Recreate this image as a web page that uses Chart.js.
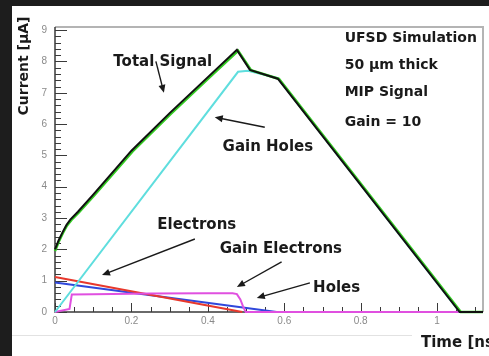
<!DOCTYPE html>
<html>
<head>
<meta charset="utf-8">
<script src="https://cdn.jsdelivr.net/npm/chart.js@4.4.1/dist/chart.umd.min.js"></script>
<style>
  html, body { margin: 0; padding: 0; background: #1d1d1d; }
  #wrap { width: 489px; height: 356px; }
  canvas { display: block; }
</style>
</head>
<body>
<div id="wrap"><canvas id="chart" width="489" height="356"></canvas></div>
<script>
// Simulated UFSD current pulse (time in ns, current in µA)
const totalTime      = [0, 0.01, 0.02, 0.03, 0.04, 0.06, 0.10, 0.20, 0.30, 0.40, 0.476, 0.51, 0.583, 1.059, 1.12];
const totalCurrent   = [2.0, 2.3, 2.55, 2.78, 2.95, 3.2, 3.75, 5.15, 6.35, 7.5, 8.37, 7.73, 7.45, 0, 0];

const totalAltTime    = [0, 0.011, 0.021, 0.031, 0.043, 0.063, 0.103, 0.203, 0.303, 0.403, 0.479, 0.513, 0.586, 1.062, 1.12];
const totalAltCurrent = [1.95, 2.28, 2.53, 2.76, 2.94, 3.19, 3.73, 5.13, 6.33, 7.48, 8.34, 7.72, 7.44, 0, 0];

const gainHolesTime    = [0, 0.479, 0.505, 0.583, 1.059, 1.12];
const gainHolesCurrent = [0, 7.67, 7.70, 7.47, 0, 0];

const electronsTime    = [0, 0.49];
const electronsCurrent = [1.12, 0];

const holesTime    = [0, 0.58];
const holesCurrent = [0.94, 0];

const gainElecTime    = [0, 0.038, 0.044, 0.10, 0.25, 0.40, 0.465, 0.476, 0.485, 0.492, 0.499, 1.12];
const gainElecCurrent = [0, 0.10, 0.56, 0.57, 0.59, 0.60, 0.60, 0.57, 0.40, 0.18, 0, 0];

const xTickValues = [0, 0.2, 0.4, 0.6, 0.8, 1];
const xTickLabels = ['0', '0.2', '0.4', '0.6', '0.8', '1'];
const yTickValues = [0, 1, 2, 3, 4, 5, 6, 7, 8, 9];
const yTickLabels = ['0', '1', '2', '3', '4', '5', '6', '7', '8', '9'];

// Text annotations: label, label anchor (t, I), arrow tail (t, I), arrow head (t, I)
const annotations = [
  { text: 'Total Signal',   at: [0.282, 7.98], from: [0.264, 8.00], to: [0.285, 7.00] },
  { text: 'Gain Holes',     at: [0.557, 5.27], from: [0.549, 5.90], to: [0.418, 6.22] },
  { text: 'Electrons',      at: [0.371, 2.78], from: [0.366, 2.33], to: [0.123, 1.18] },
  { text: 'Gain Electrons', at: [0.591, 2.01], from: [0.593, 1.60], to: [0.476, 0.80] },
  { text: 'Holes',          at: [0.737, 0.77], from: [0.667, 0.93], to: [0.528, 0.45] }
];
const infoLines = ['UFSD Simulation', '50 \u00b5m thick', 'MIP Signal', 'Gain = 10'];
const infoAnchor = [0.758, [8.75, 7.86, 7.0, 6.07]];

const pts = (ts, vs) => ts.map((t, i) => ({ x: t, y: vs[i] }));

const FACE = '"DejaVu Sans", Lato, sans-serif';

const decor = {
  id: 'decor',
  beforeDraw(chart) {
    const { ctx, width, height } = chart;
    ctx.save();
    ctx.fillStyle = '#1d1d1d';
    ctx.fillRect(0, 0, width, height);
    ctx.fillStyle = '#ffffff';
    ctx.fillRect(12, 6, width - 12, height - 6);
    ctx.strokeStyle = '#e2e2e2';
    ctx.lineWidth = 1;
    ctx.beginPath();
    ctx.moveTo(12, 335.5); ctx.lineTo(412, 335.5);
    ctx.stroke();
    ctx.restore();
  },
  beforeDatasetsDraw(chart) {
    const { ctx, chartArea: a, scales: { x, y } } = chart;
    ctx.save();
    // frame
    ctx.strokeStyle = '#b4b4b4';
    ctx.lineWidth = 2;
    ctx.beginPath();
    ctx.moveTo(a.left, a.top); ctx.lineTo(a.right, a.top); ctx.lineTo(a.right, a.bottom);
    ctx.stroke();
    ctx.strokeStyle = '#3a3a3a';
    ctx.lineWidth = 1.5;
    ctx.beginPath();
    ctx.moveTo(a.left, a.top); ctx.lineTo(a.left, a.bottom); ctx.lineTo(a.right, a.bottom);
    ctx.stroke();
    // inward tick marks
    ctx.lineWidth = 1;
    ctx.strokeStyle = '#3a3a3a';
    ctx.beginPath();
    for (let k = 0; k <= 45; k++) {
      const v = k * 0.2;
      const py = Math.round(y.getPixelForValue(v)) + 0.5;
      const len = (k % 5 === 0) ? 12 : 6;
      ctx.moveTo(a.left, py); ctx.lineTo(a.left + len, py);
    }
    for (let k = 0; k <= 22; k++) {
      const v = k * 0.05;
      const px = Math.round(x.getPixelForValue(v)) + 0.5;
      const len = (k % 4 === 0) ? 9 : 5;
      ctx.moveTo(px, a.bottom); ctx.lineTo(px, a.bottom - len);
    }
    ctx.stroke();
    ctx.restore();
  },
  afterDatasetsDraw(chart) {
    const { ctx, scales: { x, y } } = chart;
    ctx.save();
    ctx.fillStyle = '#1a1a1a';
    ctx.strokeStyle = '#1a1a1a';
    ctx.font = 'bold 15px ' + FACE;
    ctx.textAlign = 'center';
    ctx.textBaseline = 'middle';
    annotations.forEach(an => {
      ctx.fillText(an.text, x.getPixelForValue(an.at[0]), y.getPixelForValue(an.at[1]));
      const x0 = x.getPixelForValue(an.from[0]), y0 = y.getPixelForValue(an.from[1]);
      const x1 = x.getPixelForValue(an.to[0]), y1 = y.getPixelForValue(an.to[1]);
      const ang = Math.atan2(y1 - y0, x1 - x0);
      ctx.lineWidth = 1.4;
      ctx.beginPath();
      ctx.moveTo(x0, y0);
      ctx.lineTo(x1 - 4 * Math.cos(ang), y1 - 4 * Math.sin(ang));
      ctx.stroke();
      ctx.beginPath();
      ctx.moveTo(x1, y1);
      ctx.lineTo(x1 - 8 * Math.cos(ang) + 3.5 * Math.sin(ang), y1 - 8 * Math.sin(ang) - 3.5 * Math.cos(ang));
      ctx.lineTo(x1 - 8 * Math.cos(ang) - 3.5 * Math.sin(ang), y1 - 8 * Math.sin(ang) + 3.5 * Math.cos(ang));
      ctx.closePath();
      ctx.fill();
    });
    // info block
    ctx.textAlign = 'left';
    ctx.font = 'bold 14px ' + FACE;
    const ix = x.getPixelForValue(infoAnchor[0]);
    infoLines.forEach((s, i) => ctx.fillText(s, ix, y.getPixelForValue(infoAnchor[1][i])));
    // axis titles
    ctx.font = 'bold 15px ' + FACE;
    ctx.fillText('Time [ns]', 421, 343);
    ctx.font = 'bold 14px ' + FACE;
    ctx.translate(24, 66);
    ctx.rotate(-Math.PI / 2);
    ctx.textAlign = 'center';
    ctx.fillText('Current [\u00b5A]', 0, 0);
    ctx.restore();
  }
};

const line = (label, data, color, width) => ({
  label, data, borderColor: color, backgroundColor: color,
  borderWidth: width, pointRadius: 0, tension: 0, fill: false, clip: 4
});

new Chart(document.getElementById('chart'), {
  type: 'line',
  data: {
    datasets: [
      line('Total Signal', pts(totalTime, totalCurrent), '#111111', 2),
      line('Total Signal (sim)', pts(totalAltTime, totalAltCurrent), '#33cc22', 2.6),
      line('Gain Holes', pts(gainHolesTime, gainHolesCurrent), '#5fdede', 2),
      line('Gain Electrons', pts(gainElecTime, gainElecCurrent), '#e050e0', 2),
      line('Electrons', pts(electronsTime, electronsCurrent), '#e8382c', 2),
      line('Holes', pts(holesTime, holesCurrent), '#3048dc', 2)
    ]
  },
  options: {
    responsive: false,
    animation: false,
    devicePixelRatio: 1,
    layout: { padding: { top: 27, right: 6, left: 0, bottom: 0 } },
    plugins: { legend: { display: false }, tooltip: { enabled: false } },
    scales: {
      x: {
        type: 'linear', min: 0, max: 1.12,
        afterBuildTicks: s => { s.ticks = xTickValues.map(v => ({ value: v })); },
        afterFit: s => { s.height = 44; },
        grid: { display: false, drawTicks: false },
        border: { display: false },
        ticks: { color: '#8a8a8a', padding: 3, maxRotation: 0, autoSkip: false,
                 callback: (v, i) => xTickLabels[i],
                 font: { family: 'Liberation Sans, sans-serif', size: 10 } }
      },
      y: {
        type: 'linear', min: 0, max: 9.1,
        afterBuildTicks: s => { s.ticks = yTickValues.map(v => ({ value: v })); },
        afterFit: s => { s.width = 55; },
        grid: { display: false, drawTicks: false },
        border: { display: false },
        ticks: { color: '#8a8a8a', padding: 8, autoSkip: false,
                 callback: (v, i) => yTickLabels[i],
                 font: { family: 'Liberation Sans, sans-serif', size: 10 } }
      }
    }
  },
  plugins: [decor]
});
</script>
</body>
</html>
